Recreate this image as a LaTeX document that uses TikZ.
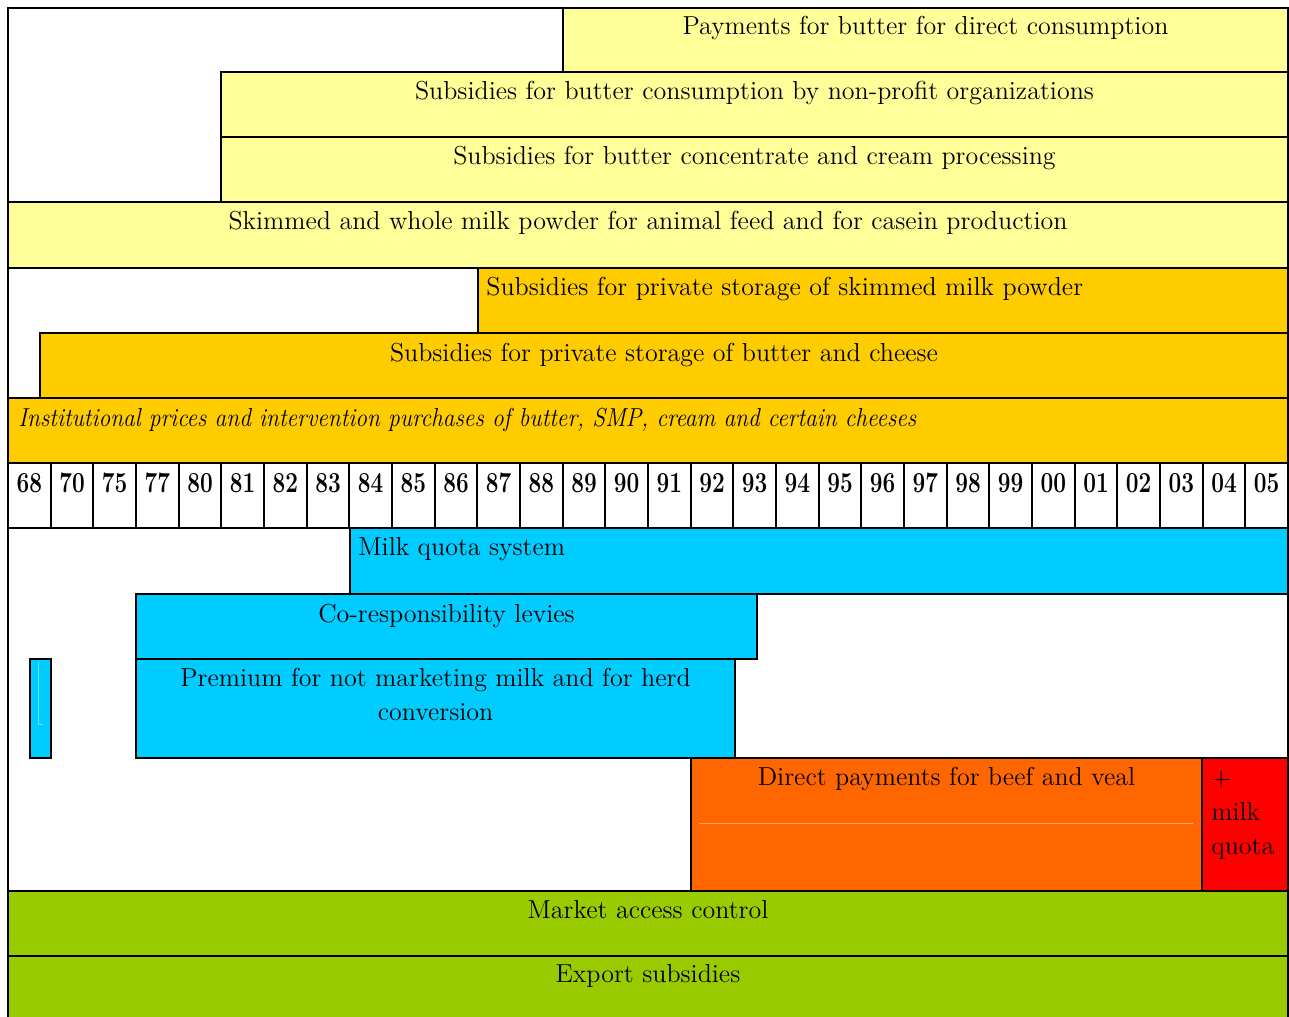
\documentclass[tikz,border=0pt]{standalone}
\usetikzlibrary{positioning}
\definecolor{butter}{HTML}{FFFF99}
\definecolor{gold}{HTML}{FFCC00}
\definecolor{quota}{HTML}{00CCFF}
\definecolor{beef}{HTML}{FF6600}
\definecolor{milkred}{HTML}{FF0000}
\definecolor{market}{HTML}{99CC00}

\begin{document}
\begin{tikzpicture}[
    x=0.02cm, y=-0.02cm,
    bar/.style={draw, line width=1.2pt},
    lbl/.style={anchor=base, inner sep=0pt, font=\fontsize{14.8}{19.3}\selectfont},
    yearlbl/.style={anchor=base, inner sep=0pt, font=\fontsize{16.5}{19}\selectfont\bfseries}
]
    \useasboundingbox[fill=white] (0,0) rectangle (1289,1017);

    % Bars - dairy products above the years
    \draw[bar, fill=butter] (563,8) rectangle (1288,72);
    \node[lbl] (direct) at (925.5,35) {Payments for butter for direct consumption};
    \draw[bar, fill=butter] (221,72) rectangle (1288,137);
    \node[lbl] (nonprofit) at (754.5,100) {Subsidies for butter consumption by non-profit organizations};
    \draw[bar, fill=butter] (221,137) rectangle (1288,202);
    \node[lbl] (concentrate) at (754.5,165) {Subsidies for butter concentrate and cream processing};
    \draw[bar, fill=butter] (8,202) rectangle (1288,268);
    \node[lbl] (powder) at (648,230) {Skimmed and whole milk powder for animal feed and for casein production};
    \draw[bar, fill=gold] (478,268) rectangle (1288,333);
    \node[lbl, anchor=base west] (smp) at (486,296) {Subsidies for private storage of skimmed milk powder};
    \draw[bar, fill=gold] (40,333) rectangle (1288,398);
    \node[lbl] (cheese) at (664,361) {Subsidies for private storage of butter and cheese};
    \draw[bar, fill=gold] (8,398) rectangle (1288,463);
    \node[lbl, anchor=base west, font=\fontsize{14.8}{19.3}\selectfont\itshape] (prices) at (18,426)
        {\scalebox{0.9}[1]{Institutional prices and intervention purchases of butter, SMP, cream and certain cheeses}};

    % Years
    \foreach \yr [count=\i from 0] in {68,70,75,77,80,81,82,83,84,85,86,87,88,89,90,91,92,93,94,95,96,97,98,99,00,01,02,03,04,05}
    {
        \draw[bar] ({8+\i*42.667},463) rectangle ({8+(\i+1)*42.667},528);
        \node[yearlbl] (yr\i) at ({8+(\i+0.5)*42.667},492) {\scalebox{0.78}[1]{\yr}};
    }

    % Bars - below the years
    \draw[bar, fill=quota] (350,528) rectangle (1288,594);
    \node[lbl, anchor=base west] (milkquota) at (358,555) {Milk quota system};
    \draw[bar, fill=quota] (136,594) rectangle (757,659);
    \node[lbl] (levies) at (446.5,622) {Co-responsibility levies};
    \draw[bar, fill=quota] (136,659) rectangle (735,758);
    \node[lbl, align=center] (premium) at (435.5,720) {Premium for not marketing milk and for herd\\conversion};
    \draw[bar, fill=quota] (30,659) rectangle (51,758);
    \draw[line width=0.4pt, quota!60!white] (38,662) -- (38,724) -- (43,724);
    \draw[bar, fill=beef] (691,758) rectangle (1202,891);
    \draw[line width=0.5pt, beef!55!white] (699,823) -- (1193,823);
    \node[lbl] (beefveal) at (946.5,785) {Direct payments for beef and veal};
    \draw[bar, fill=milkred] (1202,758) rectangle (1288,891);
    \node[lbl, anchor=base west, align=left] (plusquota) at (1211,854) {+\\milk\\quota};
    \draw[bar, fill=market] (8,891) rectangle (1288,956);
    \node[lbl] (access) at (648,918) {Market access control};
    \draw[bar, fill=market] (8,956) rectangle (1288,1030);
    \node[lbl] (export) at (648,982) {Export subsidies};

    % Frame
    \draw[line width=1.2pt] (8,1030) -- (8,8) -- (1288,8) -- (1288,1030);
\end{tikzpicture}
\end{document}
